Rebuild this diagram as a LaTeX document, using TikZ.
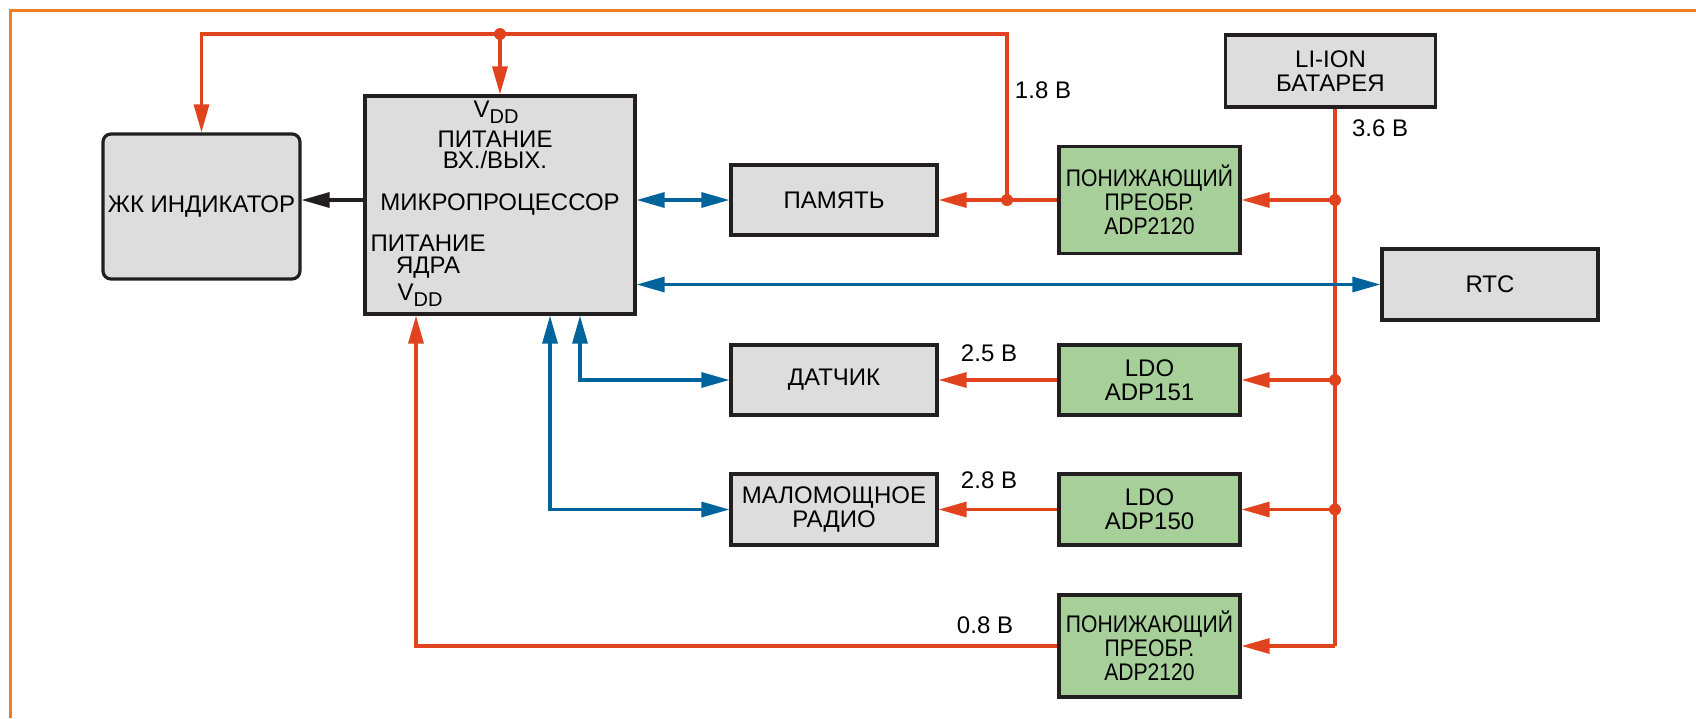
\documentclass[tikz,border=0pt]{standalone}
\usepackage{fontspec}
\setmainfont{Liberation Sans}
\newfontfamily\narrowsf[FakeStretch=0.88]{Liberation Sans}
\usetikzlibrary{arrows.meta, positioning}

\definecolor{pwrred}{RGB}{224,67,30}
\definecolor{sigblue}{RGB}{0,99,155}
\definecolor{frameorange}{RGB}{238,125,35}
\definecolor{boxgray}{RGB}{221,221,221}
\definecolor{boxgreen}{RGB}{167,207,154}
\definecolor{edge}{RGB}{35,31,32}

\newcommand{\vdd}{V\raisebox{-0.45ex}{\fontsize{10}{10}\selectfont DD}}

\begin{document}
\begin{tikzpicture}[x=0.5pt, y=-0.5pt, >={Triangle[length=14pt,width=7.5pt]},
		font=\fontsize{12}{12}\selectfont,
		blk/.style={draw=edge, line width=1.6pt, fill=boxgray, align=center, inner sep=0pt},
		conv/.style={blk, fill=boxgreen},
		buck/.style={conv, font=\narrowsf\fontsize{12}{12}\selectfont},
		pwr/.style={draw=pwrred, line width=1.6pt},
		sig/.style={draw=sigblue, line width=1.6pt},
		dot/.style={circle, fill=pwrred, inner sep=0pt, minimum size=6pt},
		lbl/.style={inner sep=0pt}]
				\useasboundingbox (0,0) rectangle (1696,718);
				\draw[frameorange, line width=1.5pt] (10.5,718) -- (10.5,10.5) -- (1696,10.5);
				
				\node[blk, rounded corners=4pt, minimum width=98.5pt, minimum height=72.5pt] (lcd) at (201.5,206.5) {ЖК ИНДИКАТОР};
				\node[blk, minimum width=135pt, minimum height=109pt] (mcu) at (500,205) {МИКРОПРОЦЕССОР};
				\node[lbl] (vddio) at (496,112) {\vdd};
				\node[lbl, align=center, font=\fontsize{12}{10.5}\selectfont] (io) at (495,150) {ПИТАНИЕ\\ВХ./ВЫХ.};
				\node[lbl, align=center, font=\fontsize{12}{11}\selectfont] (core) at (428,257) {ПИТАНИЕ\\ЯДРА};
				\node[lbl] (vddcore) at (420,295) {\vdd};
				
				\node[blk, minimum width=103pt, minimum height=35pt] (mem) at (834,200) {ПАМЯТЬ};
				\node[blk, minimum width=103pt, minimum height=35pt] (sens) at (834,380) {ДАТЧИК};
				\node[blk, minimum width=103pt, minimum height=35.5pt] (radio) at (834,509.5) {МАЛОМОЩНОЕ\\РАДИО};
				\node[buck, minimum width=90.5pt, minimum height=53.5pt] (buck1) at (1149.5,200) {ПОНИЖАЮЩИЙ\\ПРЕОБР.\\ADP2120};
				\node[conv, minimum width=90.5pt, minimum height=35pt] (ldo1) at (1149.5,380) {LDO\\ADP151};
				\node[conv, minimum width=90.5pt, minimum height=35.5pt] (ldo2) at (1149.5,509.5) {LDO\\ADP150};
				\node[buck, minimum width=90.5pt, minimum height=51pt] (buck2) at (1149.5,646) {ПОНИЖАЮЩИЙ\\ПРЕОБР.\\ADP2120};
				\node[blk, minimum width=105pt, minimum height=36pt] (bat) at (1330.5,71) {LI-ION\\БАТАРЕЯ};
				\node[blk, minimum width=108pt, minimum height=35.5pt] (rtc) at (1490,284.5) {RTC};
				
				\coordinate (rail) at (0,34);
				\coordinate (bus) at (1335,646);
				\coordinate (j18) at (1007,200);
				\coordinate (s1) at (580,0);
				\coordinate (s2) at (550,0);
				\coordinate (c08) at (416,0);
				
				\draw[pwr] (bat.south -| bus) -- (bus);
				\draw[pwr,->] (bus) -- (buck2.east);
				\draw[pwr,->] (bus |- buck1.east) -- (buck1.east);
				\draw[pwr,->] (bus |- ldo1.east) -- (ldo1.east);
				\draw[pwr,->] (bus |- ldo2.east) -- (ldo2.east);
				\draw[pwr,->] (buck1.west) -- (mem.east);
				\draw[pwr,->] (j18) -- (j18 |- rail) -- (rail -| lcd.north) -- (lcd.north);
				\draw[pwr,->] (rail -| mcu.north) -- (mcu.north);
				\draw[pwr,->] (ldo1.west) -- (sens.east);
				\draw[pwr,->] (ldo2.west) -- (radio.east);
				\draw[pwr,->] (buck2.west) -| (mcu.south -| c08);
				\node[dot] (d1) at (bus |- buck1.east) {};
				\node[dot] (d2) at (bus |- ldo1.east) {};
				\node[dot] (d3) at (bus |- ldo2.east) {};
				\node[dot] (d4) at (j18) {};
				\node[dot] (d5) at (rail -| mcu.north) {};
				
				\draw[sig,<->] (mcu.east |- mem.west) -- (mem.west);
				\draw[sig,<->] (mcu.east |- rtc.west) -- (rtc.west);
				\draw[sig,<->] (mcu.south -| s1) |- (sens.west);
				\draw[sig,<->] (mcu.south -| s2) |- (radio.west);
				\draw[edge, line width=1.6pt, ->] (mcu.west |- j18) -- (lcd.east |- j18);
				
				\node[lbl] (v18) at (1043,90) {1.8 В};
				\node[lbl] (v36) at (1380,128) {3.6 В};
				\node[lbl] (v25) at (989,353) {2.5 В};
				\node[lbl] (v28) at (989,480) {2.8 В};
				\node[lbl] (v08) at (985,625) {0.8 В};
			\end{tikzpicture}
\end{document}
